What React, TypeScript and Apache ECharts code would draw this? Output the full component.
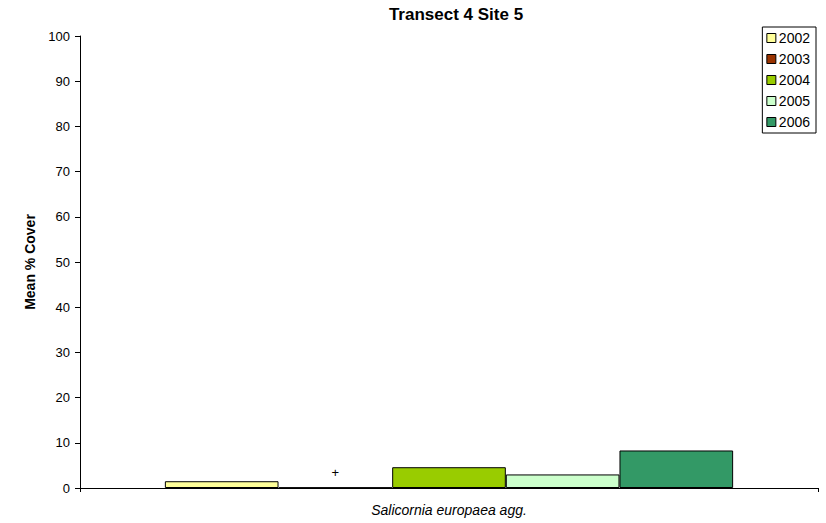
import React, { useEffect, useRef } from "react";
import * as echarts from "echarts";

const categories = ["Salicornia europaea agg."];
const years = ["2002", "2003", "2004", "2005", "2006"];
const values2002 = [1.5];
const values2003 = [0.1];
const values2004 = [4.6];
const values2005 = [3.0];
const values2006 = [8.3];
const seriesValues = [values2002, values2003, values2004, values2005, values2006];
const colors = ["#FFFF99", "#993300", "#99CC00", "#CCFFCC", "#339966"];
const traceLabels = ["", "+", "", "", ""];

export default function App() {
  const ref = useRef<HTMLDivElement>(null);
  useEffect(() => {
    if (!ref.current) return;
    const chart = echarts.init(ref.current, null, { renderer: "svg" });
    const font = "'Liberation Sans', Arial, sans-serif";
    chart.setOption({
      animation: false,
      textStyle: { fontFamily: font, color: "#000" },
      title: {
        text: "Transect 4 Site 5",
        left: 451,
        top: 1,
        textAlign: "center",
        textStyle: { fontFamily: font, fontSize: 17, fontWeight: "bold", color: "#000" },
      },
      legend: {
        orient: "vertical",
        right: 10,
        top: 27,
        data: years,
        itemWidth: 9,
        itemHeight: 9,
        itemGap: 7,
        padding: [4, 6, 4, 4],
        borderColor: "#000",
        borderWidth: 1,
        textStyle: { fontFamily: font, fontSize: 14, color: "#000", lineHeight: 14, padding: [0, 0, 0, -2] },
        icon: "rect",
        itemStyle: { borderColor: "#000", borderWidth: 1 },
      },
      grid: { left: 80, right: 8, top: 36, bottom: 35 },
      xAxis: {
        type: "category",
        data: categories,
        axisLine: { lineStyle: { color: "#000", width: 1 } },
        axisTick: { show: true, length: 4, lineStyle: { color: "#000" } },
        axisLabel: { fontFamily: font, fontSize: 14, fontStyle: "italic", color: "#000", margin: 15 },
      },
      yAxis: {
        type: "value",
        min: 0,
        max: 100,
        interval: 10,
        name: "Mean % Cover",
        nameLocation: "middle",
        nameRotate: 90,
        nameGap: 43,
        nameTextStyle: { fontFamily: font, fontSize: 14, fontWeight: "bold", color: "#000" },
        axisLine: { show: true, lineStyle: { color: "#000", width: 1 } },
        axisTick: { show: true, length: 5, lineStyle: { color: "#000" } },
        axisLabel: { fontFamily: font, fontSize: 13, color: "#000", margin: 10 },
        splitLine: { show: false },
      },
      series: years.map((y, i) => ({
        name: y,
        type: "bar",
        data: seriesValues[i],
        barGap: "0%",
        barCategoryGap: "23%",
        itemStyle: { color: colors[i], borderColor: "#000", borderWidth: 1 },
        label: traceLabels[i]
          ? {
              show: true,
              position: "top",
              distance: 8,
              formatter: traceLabels[i],
              fontFamily: font,
              fontSize: 13,
              color: "#000",
            }
          : { show: false },
      })),
    });
    return () => chart.dispose();
  }, []);
  return (
    <div
      ref={ref}
      style={{ position: "absolute", left: 0, top: 0, width: 826, height: 523, background: "#fff" }}
    />
  );
}
